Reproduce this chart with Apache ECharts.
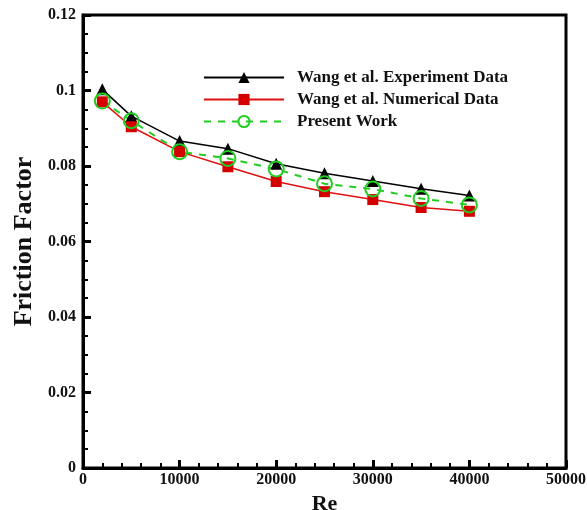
<!DOCTYPE html>
<html>
<head>
<meta charset="utf-8">
<script src="https://cdn.jsdelivr.net/npm/echarts@6/dist/echarts.min.js"></script>
<style>html,body{margin:0;padding:0;background:#fff;}#c{width:587px;height:510px;}</style>
</head>
<body>
<div id="c"></div>
<script>
var reValues = [2000, 5000, 10000, 15000, 20000, 25000, 30000, 35000, 40000];
var experimentData = [0.1003, 0.0932, 0.0866, 0.0846, 0.0806, 0.0781, 0.0760, 0.0740, 0.0722];
var numericalData = [0.0970, 0.0904, 0.0838, 0.0798, 0.0759, 0.0732, 0.0711, 0.0690, 0.0680];
var presentData = [0.0972, 0.0920, 0.0838, 0.0820, 0.0792, 0.0753, 0.0739, 0.0714, 0.0697];
var seriesNames = ['Wang et al. Experiment Data', 'Wang et al. Numerical Data', 'Present Work'];

function pairs(vals) { return reValues.map(function (x, i) { return [x, vals[i]]; }); }

var font = 'Liberation Serif';
var chart = echarts.init(document.getElementById('c'), null, {renderer: 'canvas'});
chart.setOption({
  animation: false,
  backgroundColor: '#fff',
  grid: {left: 83, right: 21, top: 15, bottom: 42, outerBoundsMode: 'none', containLabel: false,
    show: true, borderColor: '#000', borderWidth: 3},
  legend: {
    orient: 'vertical', left: 198, top: 64, itemWidth: 80, itemHeight: 14, itemGap: 5,
    textStyle: {fontFamily: font, fontWeight: 'bold', fontSize: 17, color: '#111', padding: [0, 0, 0, 8]},
    data: seriesNames
  },
  xAxis: {
    type: 'value', min: 0, max: 50000, interval: 10000,
    name: 'Re', nameLocation: 'middle', nameGap: 22,
    nameTextStyle: {fontFamily: font, fontWeight: 'bold', fontSize: 22, color: '#111'},
    axisLine: {show: true, lineStyle: {color: '#000', width: 3}},
    axisTick: {show: true, inside: true, length: 8, lineStyle: {color: '#000', width: 3}},
    minorTick: {show: true, splitNumber: 5, length: 5, lineStyle: {color: '#000', width: 2}},
    splitLine: {show: false},
    axisLabel: {fontFamily: font, fontWeight: 'bold', fontSize: 16, color: '#111', margin: 4,
      formatter: function (v) { return String(v); }}
  },
  yAxis: {
    type: 'value', min: 0, max: 0.12, interval: 0.02,
    name: 'Friction Factor', nameLocation: 'middle', nameGap: 46,
    nameTextStyle: {fontFamily: font, fontWeight: 'bold', fontSize: 26, color: '#111'},
    axisLine: {show: true, lineStyle: {color: '#000', width: 3}},
    axisTick: {show: true, inside: true, length: 8, lineStyle: {color: '#000', width: 3}},
    minorTick: {show: true, splitNumber: 4, length: 5, lineStyle: {color: '#000', width: 2}},
    splitLine: {show: false},
    axisLabel: {fontFamily: font, fontWeight: 'bold', fontSize: 16, color: '#111', margin: 7}
  },
  series: [
    {
      name: seriesNames[0], type: 'line', data: pairs(experimentData),
      symbol: 'triangle', symbolSize: 12,
      lineStyle: {color: '#000', width: 1.5},
      itemStyle: {color: '#000'}
    },
    {
      name: seriesNames[1], type: 'line', data: pairs(numericalData),
      symbol: 'rect', symbolSize: 11,
      lineStyle: {color: '#e01010', width: 1.5},
      itemStyle: {color: '#d40000'}
    },
    {
      name: seriesNames[2], type: 'line', data: pairs(presentData),
      symbol: 'circle', symbolSize: 15,
      lineStyle: {color: '#22cc22', width: 2, type: [7, 7]},
      itemStyle: {color: 'rgba(0,0,0,0)', borderColor: '#22cc22', borderWidth: 2}
    }
  ]
});
</script>
</body>
</html>
